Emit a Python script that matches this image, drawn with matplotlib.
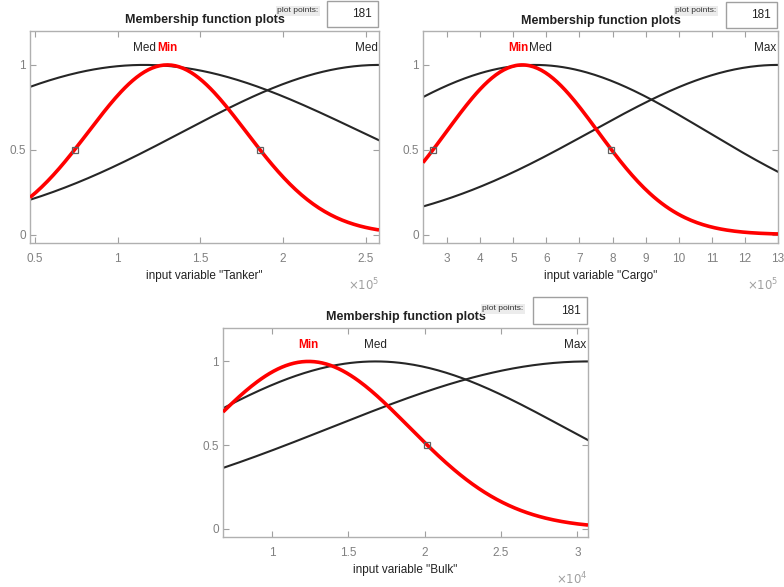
import matplotlib
matplotlib.use("Agg")
import matplotlib.pyplot as plt
import numpy as np
from matplotlib.patches import Rectangle

plt.rcParams['font.family'] = ['Liberation Sans Narrow', 'Liberation Sans', 'DejaVu Sans']

# Funciones de pertenencia gaussianas (centro, sigma) de cada variable de entrada
n_puntos = 181

tanker_rango = [0.47e5, 2.58e5]
tanker_nombres = ["Min", "Med", "Med"]
tanker_centros = [1.30e5, 1.16e5, 2.58e5]
tanker_sigmas = [0.476e5, 1.31e5, 1.185e5]
tanker_ticks = [0.5e5, 1.0e5, 1.5e5, 2.0e5, 2.5e5]
tanker_tick_labels = ["0.5", "1", "1.5", "2", "2.5"]

cargo_rango = [2.27e5, 13.0e5]
cargo_nombres = ["Min", "Med", "Max"]
cargo_centros = [5.27e5, 5.65e5, 13.0e5]
cargo_sigmas = [2.29e5, 5.21e5, 5.655e5]
cargo_ticks = [3e5, 4e5, 5e5, 6e5, 7e5, 8e5, 9e5, 10e5, 11e5, 12e5, 13e5]
cargo_tick_labels = ["3", "4", "5", "6", "7", "8", "9", "10", "11", "12", "13"]

bulk_rango = [0.68e4, 3.07e4]
bulk_nombres = ["Min", "Med", "Max"]
bulk_centros = [1.24e4, 1.68e4, 3.07e4]
bulk_sigmas = [0.66e4, 1.233e4, 1.679e4]
bulk_ticks = [1.0e4, 1.5e4, 2.0e4, 2.5e4, 3.0e4]
bulk_tick_labels = ["1", "1.5", "2", "2.5", "3"]

W, H = 784, 587
GRIS = "#808080"


def gaussmf(x, sigma, c):
    return np.exp(-(x - c) ** 2 / (2 * sigma ** 2))


def px(x, y):
    return x / W, 1 - y / H


def cabecera(fig, xt, yt, xp, yp, caja):
    """Título 'Membership function plots' y la caja de 'plot points'."""
    fig.text(*px(xt, yt), "Membership function plots", ha="center", va="center",
             fontsize=9, fontweight="bold", color="#222222")
    x0, y0, x1, y1 = caja
    fig.text(*px(xp, yp), "plot points:", ha="left", va="center", fontsize=6,
             color="#333333", bbox=dict(facecolor="#ececec", edgecolor="none", pad=1))
    fig.add_artist(Rectangle(px(x0, y1), (x1 - x0) / W, (y1 - y0) / H,
                             transform=fig.transFigure, facecolor="white",
                             edgecolor="#a0a0a0", lw=1))
    fig.text(*px(x1 - 6, (y0 + y1) / 2), str(n_puntos), ha="right", va="center",
             fontsize=8.5, color="#222222")


def dibujar_mfs(ax, rango, nombres, centros, sigmas, ticks, tick_labels,
                variable, exponente):
    x = np.linspace(rango[0], rango[1], n_puntos)
    ancho = rango[1] - rango[0]
    # primero las negras, la seleccionada (roja) encima
    orden = [i for i in range(len(nombres)) if i != 0] + [0]
    for i in orden:
        y = gaussmf(x, sigmas[i], centros[i])
        if i == 0:
            ax.plot(x, y, color="#ff0000", lw=2.6, zorder=3, solid_capstyle="butt")
            mitad = sigmas[i] * np.sqrt(2 * np.log(2))
            for xm in [centros[i] - mitad, centros[i] + mitad]:
                if rango[0] <= xm <= rango[1]:
                    ax.plot(xm, 0.5, "s", ms=4.5, mfc="none", mec="#606060",
                            mew=0.9, zorder=4)
        else:
            ax.plot(x, y, color="#262626", lw=1.5, zorder=2)

    # etiquetas sobre cada función; si dos centros casi coinciden se juntan
    for i, nombre in enumerate(nombres):
        color = "#ff0000" if i == 0 else "#262626"
        peso = "bold" if i == 0 else "normal"
        xt, ha = centros[i], "center"
        if centros[i] >= rango[1] - 0.02 * ancho:
            xt, ha = rango[1] - 0.004 * ancho, "right"
        else:
            for j, cj in enumerate(centros):
                if j != i and abs(cj - centros[i]) < 0.05 * ancho:
                    xt = (cj + centros[i]) / 2
                    ha = "right" if centros[i] < cj else "left"
        ax.text(xt, 1.1, nombre, ha=ha, va="center", fontsize=8.5, color=color,
                fontweight=peso)

    ax.set_xlim(rango)
    ax.set_ylim(-0.05, 1.2)
    ax.set_xticks(ticks)
    ax.set_xticklabels(tick_labels)
    ax.set_yticks([0, 0.5, 1])
    ax.set_yticklabels(["0", "0.5", "1"])
    ax.tick_params(direction="in", top=True, right=True, length=4, width=0.8,
                   colors="#a0a0a0", labelcolor=GRIS, labelsize=8.5)
    ax.tick_params(axis="x", pad=7)
    ax.tick_params(axis="y", pad=3)
    for s in ax.spines.values():
        s.set_color("#b0b0b0")
        s.set_linewidth(1)
    ax.set_xlabel(f'input variable "{variable}"', fontsize=8.5, color="#222222",
                  labelpad=4)
    ax.text(1.0, -0.2, r"$\times10^{%d}$" % exponente, transform=ax.transAxes,
            ha="right", va="center", fontsize=8.5, color="#a0a0a0")


fig = plt.figure(figsize=(7.84, 5.87), dpi=100)

ax1 = fig.add_axes([30 / W, 1 - 243 / H, 349 / W, 212 / H])
dibujar_mfs(ax1, tanker_rango, tanker_nombres, tanker_centros, tanker_sigmas,
            tanker_ticks, tanker_tick_labels, "Tanker", 5)
cabecera(fig, 205, 20, 277, 11, (327, 1, 378, 27))

ax2 = fig.add_axes([423 / W, 1 - 243 / H, 355 / W, 212 / H])
dibujar_mfs(ax2, cargo_rango, cargo_nombres, cargo_centros, cargo_sigmas,
            cargo_ticks, cargo_tick_labels, "Cargo", 5)
cabecera(fig, 601, 21, 675, 11, (726, 2, 777, 28))

ax3 = fig.add_axes([223 / W, 1 - 537 / H, 365 / W, 209 / H])
dibujar_mfs(ax3, bulk_rango, bulk_nombres, bulk_centros, bulk_sigmas,
            bulk_ticks, bulk_tick_labels, "Bulk", 4)
cabecera(fig, 406, 317, 482, 309, (533, 297, 587, 324))

fig.savefig("out.png", dpi=100, facecolor="white")
